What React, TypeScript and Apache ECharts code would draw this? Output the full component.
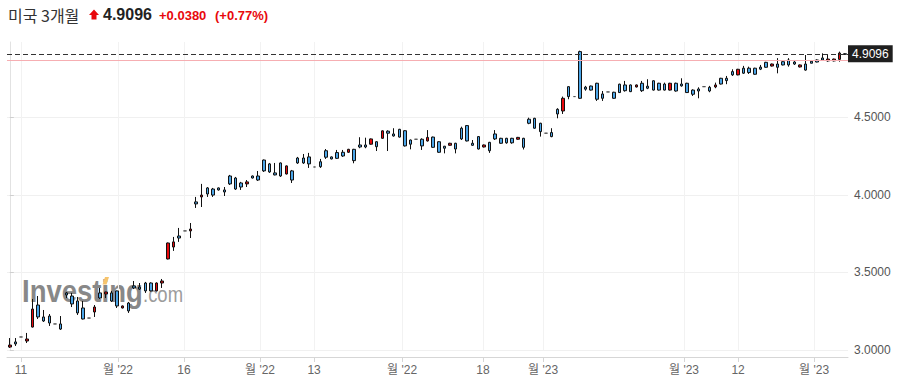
import React, { useEffect, useRef } from "react";
import * as echarts from "echarts";

const title = "미국 3개월";
const lastPrice = 4.9096;
const prevClose = 4.8716;
const changeText = "+0.0380";
const changePctText = "(+0.77%)";

const opens = [
  3.032, 3.039, 3.084, 3.071, 3.264, 3.213, 3.187, 3.174, 3.168, 3.135,
  3.355, 3.297, 3.239, 3.200, 3.206, 3.277, 3.335, 3.374, 3.316, 3.284,
  3.284, 3.252, 3.400, 3.393, 3.381, 3.381, 3.432, 3.445, 3.690, 3.697,
  3.722, 3.768, 3.780, 3.942, 3.999, 4.006, 3.999, 4.032, 4.019, 4.071,
  4.038, 4.051, 4.084, 4.109, 4.096, 4.155, 4.148, 4.129, 4.122, 4.187,
  4.096, 4.206, 4.206, 4.200, 4.180, 4.182, 4.243, 4.232, 4.236, 4.251,
  4.294, 4.221, 4.309, 4.309, 4.361, 4.311, 4.413, 4.398, 4.380, 4.373,
  4.316, 4.327, 4.359, 4.316, 4.371, 4.307, 4.275, 4.301, 4.333, 4.296,
  4.361, 4.348, 4.320, 4.296, 4.322, 4.285, 4.361, 4.333, 4.336, 4.336,
  4.371, 4.307, 4.462, 4.430, 4.408, 4.398, 4.376, 4.522, 4.623, 4.634,
  4.634, 4.623, 4.682, 4.676, 4.617, 4.623, 4.664, 4.623, 4.660, 4.672,
  4.666, 4.709, 4.672, 4.688, 4.676, 4.676, 4.676, 4.720, 4.670, 4.703,
  4.660, 4.649, 4.670, 4.698, 4.670, 4.709, 4.715, 4.737, 4.774, 4.810,
  4.785, 4.789, 4.778, 4.811, 4.823, 4.844, 4.823, 4.838, 4.838, 4.844,
  4.838, 4.805, 4.849, 4.857, 4.870, 4.876, 4.876, 4.915, 4.907,
];
const closes = [
  3.019, 3.052, 3.084, 3.058, 3.148, 3.290, 3.213, 3.219, 3.168, 3.168,
  3.368, 3.348, 3.316, 3.271, 3.206, 3.245, 3.368, 3.361, 3.368, 3.381,
  3.271, 3.303, 3.413, 3.406, 3.432, 3.432, 3.381, 3.432, 3.587, 3.664,
  3.735, 3.768, 3.768, 3.955, 3.987, 4.045, 4.038, 4.045, 4.032, 4.122,
  4.109, 4.077, 4.071, 4.122, 4.122, 4.225, 4.200, 4.142, 4.206, 4.135,
  4.155, 4.238, 4.238, 4.245, 4.180, 4.214, 4.285, 4.245, 4.273, 4.275,
  4.275, 4.294, 4.322, 4.322, 4.327, 4.343, 4.365, 4.411, 4.393, 4.423,
  4.414, 4.354, 4.359, 4.359, 4.348, 4.373, 4.343, 4.314, 4.320, 4.333,
  4.430, 4.447, 4.333, 4.376, 4.309, 4.339, 4.393, 4.365, 4.365, 4.365,
  4.359, 4.365, 4.488, 4.494, 4.462, 4.398, 4.402, 4.552, 4.541, 4.698,
  4.634, 4.924, 4.695, 4.702, 4.720, 4.651, 4.664, 4.662, 4.714, 4.709,
  4.709, 4.696, 4.720, 4.701, 4.736, 4.720, 4.715, 4.676, 4.720, 4.715,
  4.720, 4.676, 4.683, 4.698, 4.694, 4.696, 4.752, 4.752, 4.795, 4.774,
  4.817, 4.817, 4.817, 4.824, 4.855, 4.831, 4.844, 4.859, 4.870, 4.857,
  4.825, 4.844, 4.862, 4.870, 4.883, 4.864, 4.864, 4.874, 4.910,
];
const lows = [
  3.013, 3.026, 3.084, 3.045, 3.145, 3.200, 3.181, 3.155, 3.168, 3.129,
  3.335, 3.277, 3.226, 3.197, 3.206, 3.213, 3.329, 3.335, 3.310, 3.271,
  3.268, 3.239, 3.393, 3.387, 3.368, 3.378, 3.378, 3.400, 3.584, 3.639,
  3.697, 3.768, 3.722, 3.916, 3.922, 3.987, 3.987, 4.028, 3.993, 4.064,
  4.032, 4.032, 4.051, 4.106, 4.090, 4.148, 4.142, 4.126, 4.116, 4.132,
  4.077, 4.200, 4.200, 4.174, 4.180, 4.174, 4.232, 4.229, 4.232, 4.245,
  4.271, 4.204, 4.301, 4.301, 4.324, 4.283, 4.362, 4.283, 4.376, 4.370,
  4.312, 4.294, 4.359, 4.290, 4.344, 4.304, 4.271, 4.268, 4.318, 4.268,
  4.354, 4.345, 4.316, 4.293, 4.306, 4.271, 4.354, 4.330, 4.330, 4.330,
  4.356, 4.293, 4.456, 4.427, 4.376, 4.398, 4.372, 4.494, 4.522, 4.617,
  4.634, 4.620, 4.672, 4.673, 4.606, 4.606, 4.664, 4.620, 4.657, 4.666,
  4.663, 4.693, 4.664, 4.682, 4.673, 4.673, 4.673, 4.673, 4.666, 4.698,
  4.657, 4.638, 4.623, 4.698, 4.662, 4.688, 4.712, 4.714, 4.767, 4.771,
  4.780, 4.780, 4.775, 4.805, 4.820, 4.828, 4.784, 4.835, 4.827, 4.838,
  4.822, 4.801, 4.849, 4.855, 4.866, 4.859, 4.861, 4.859, 4.903,
];
const highs = [
  3.077, 3.077, 3.084, 3.110, 3.329, 3.348, 3.258, 3.232, 3.168, 3.219,
  3.374, 3.368, 3.342, 3.316, 3.206, 3.290, 3.400, 3.376, 3.381, 3.383,
  3.287, 3.310, 3.445, 3.432, 3.439, 3.436, 3.436, 3.458, 3.693, 3.729,
  3.787, 3.768, 3.819, 3.987, 4.071, 4.051, 4.045, 4.048, 4.051, 4.129,
  4.116, 4.084, 4.096, 4.125, 4.154, 4.228, 4.206, 4.206, 4.209, 4.190,
  4.161, 4.245, 4.264, 4.271, 4.180, 4.232, 4.296, 4.248, 4.290, 4.290,
  4.297, 4.297, 4.372, 4.369, 4.364, 4.346, 4.416, 4.417, 4.430, 4.426,
  4.417, 4.357, 4.359, 4.365, 4.418, 4.376, 4.346, 4.316, 4.336, 4.336,
  4.440, 4.450, 4.354, 4.379, 4.325, 4.342, 4.418, 4.368, 4.368, 4.368,
  4.374, 4.368, 4.498, 4.497, 4.465, 4.398, 4.430, 4.559, 4.634, 4.700,
  4.634, 4.930, 4.703, 4.705, 4.723, 4.670, 4.664, 4.665, 4.717, 4.735,
  4.712, 4.712, 4.735, 4.746, 4.739, 4.723, 4.724, 4.723, 4.724, 4.752,
  4.723, 4.681, 4.694, 4.698, 4.703, 4.724, 4.755, 4.767, 4.810, 4.813,
  4.832, 4.827, 4.820, 4.838, 4.858, 4.847, 4.882, 4.862, 4.882, 4.870,
  4.841, 4.902, 4.870, 4.874, 4.913, 4.908, 4.879, 4.924, 4.913,
];

// positions of the date ticks along the candle axis (in candle-index units)
const tickPositions = [1.98, 19.17, 30.86, 44.33, 53.9, 69.49, 83.84, 94.47, 119.45, 129.02, 142.49];
const tickLabels = ["11", "월 '22", "16", "월 '22", "13", "월 '22", "18", "월 '23", "월 '23", "12", "월 '23"];
const yTicks = [3.0, 3.5, 4.0, 4.5];
const yMin = 3.0;
const yMax = 4.986;

const LATIN = "'Liberation Sans', Arial, 'Noto Sans CJK KR', sans-serif";
const KR = "'Noto Sans CJK KR', 'Liberation Sans', sans-serif";
const RED = "#e8080c";
const BLUE = "#4aa5e8";

export default function App() {
  const ref = useRef<HTMLDivElement>(null);

  useEffect(() => {
    if (!ref.current) return;
    const chart = echarts.init(ref.current, null, { renderer: "svg" });
    const candleData = opens.map((o, i) => [o, closes[i], lows[i], highs[i]]);
    const categories = opens.map((_, i) => String(i + 1));

    const labelFor = (v: number) => {
      let best = 0;
      let bd = Infinity;
      tickPositions.forEach((p, i) => {
        const d = Math.abs(p - v);
        if (d < bd) {
          bd = d;
          best = i;
        }
      });
      return bd < 0.3 ? tickLabels[best] : "";
    };

    chart.setOption({
      animation: false,
      backgroundColor: "#ffffff",
      grid: { left: 7, right: 51, top: 42, bottom: 37, containLabel: false },
      xAxis: [
        {
          type: "category",
          data: categories,
          boundaryGap: true,
          show: false,
        },
        {
          type: "value",
          min: -0.5,
          max: opens.length - 0.5,
          position: "bottom",
          offset: 7,
          axisLine: { show: true, lineStyle: { color: "#d6d6d6", width: 1 } },
          axisTick: {
            show: true,
            length: 5,
            customValues: tickPositions,
            lineStyle: { color: "#d6d6d6" },
          },
          axisLabel: {
            customValues: tickPositions,
            formatter: (v: number) => labelFor(v),
            color: "#666",
            fontSize: 12,
            fontFamily: LATIN,
            margin: 7,
          },
          splitLine: { show: true, lineStyle: { color: "#f2f2f2", width: 1 } },
        },
      ],
      yAxis: {
        type: "value",
        position: "right",
        min: yMin,
        max: yMax,
        scale: true,
        axisLine: { show: true, lineStyle: { color: "#e2e2e2" } },
        axisTick: {
          show: true,
          length: 4,
          customValues: yTicks,
          lineStyle: { color: "#cfcfcf" },
        },
        axisLabel: {
          customValues: yTicks,
          formatter: (v: number) => v.toFixed(4),
          color: "#555",
          fontSize: 12,
          fontFamily: LATIN,
          margin: 6,
        },
        splitLine: { show: true, lineStyle: { color: "#f0f0f0", width: 1 } },
      },
      series: [
        {
          type: "candlestick",
          xAxisIndex: 0,
          yAxisIndex: 0,
          data: candleData,
          barWidth: 3,
          z: 3,
          itemStyle: {
            color: BLUE,
            color0: RED,
            borderColor: "#111",
            borderColor0: "#111",
            borderColorDoji: "#555",
            borderWidth: 1,
          },
          markLine: {
            silent: true,
            symbol: ["none", "none"],
            animation: false,
            data: [
              {
                yAxis: prevClose,
                lineStyle: { color: "#f6aeb2", type: "solid", width: 1 },
                label: { show: false },
              },
              {
                yAxis: lastPrice,
                lineStyle: { color: "#333", type: [5, 3], width: 1 },
                label: {
                  show: true,
                  position: "end",
                  distance: 0,
                  formatter: lastPrice.toFixed(4),
                  color: "#fff",
                  backgroundColor: "#1f1f1f",
                  padding: [3, 4, 2, 4],
                  fontSize: 12,
                  fontFamily: LATIN,
                },
              },
            ],
          },
        },
      ],
      graphic: [
        {
          type: "text",
          x: 22,
          y: 290.5,
          scaleX: 0.86,
          z: 0,
          silent: true,
          style: {
            text: "Investing",
            x: 0,
            y: 0,
            fill: "#888888",
            font: `bold 32px ${LATIN}`,
            textVerticalAlign: "middle",
          },
        },
        {
          type: "text",
          x: 143,
          y: 294,
          scaleX: 0.84,
          z: 0,
          silent: true,
          style: {
            text: ".com",
            x: 0,
            y: 0,
            fill: "#9c9c9c",
            font: `22px ${LATIN}`,
            textVerticalAlign: "middle",
          },
        },
        {
          type: "polygon",
          z: 1,
          silent: true,
          shape: { points: [[102.5, 284.5], [105, 277], [109, 277], [106.5, 284.5]] },
          style: { fill: "#f7c46c" },
        },
        {
          type: "text",
          x: 8,
          y: 14.5,
          style: {
            text: title,
            fill: "#333",
            font: `16px ${KR}`,
            textVerticalAlign: "middle",
          },
        },
        {
          type: "polygon",
          shape: {
            points: [[89, 15], [94, 9.5], [99, 15], [96.5, 15], [96.5, 19.5], [91.5, 19.5], [91.5, 15]],
          },
          style: { fill: RED },
        },
        {
          type: "text",
          x: 103,
          y: 14.5,
          style: {
            text: lastPrice.toFixed(4),
            fill: "#222",
            font: `bold 16px ${LATIN}`,
            textVerticalAlign: "middle",
          },
        },
        {
          type: "text",
          x: 159,
          y: 15,
          style: {
            text: changeText,
            fill: RED,
            font: `bold 13px ${LATIN}`,
            textVerticalAlign: "middle",
          },
        },
        {
          type: "text",
          x: 215,
          y: 15,
          style: {
            text: changePctText,
            fill: RED,
            font: `bold 13px ${LATIN}`,
            textVerticalAlign: "middle",
          },
        },
      ],
    });

    return () => {
      chart.dispose();
    };
  }, []);

  return (
    <div style={{ position: "fixed", left: 0, top: 0, width: 899, height: 387, background: "#fff" }}>
      <div ref={ref} style={{ width: 899, height: 387 }} />
    </div>
  );
}
